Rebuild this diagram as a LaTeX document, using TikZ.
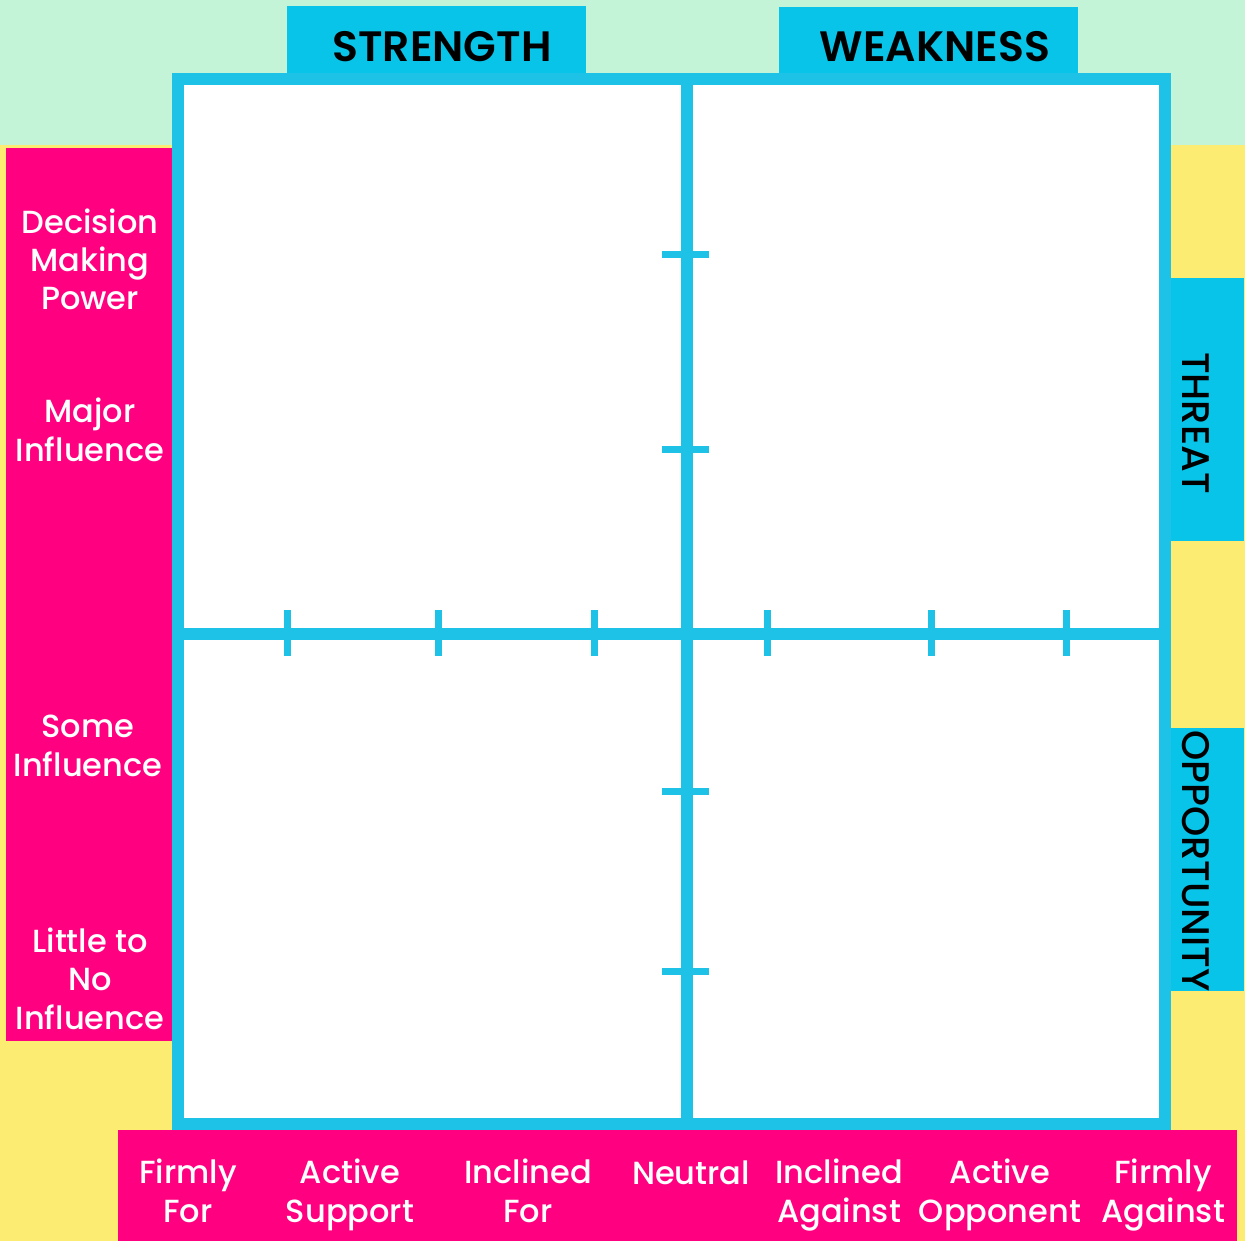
\documentclass[tikz,border=0pt]{standalone}
\usepackage{fontspec}
\setmainfont{Poppins}[UprightFont=* Medium,BoldFont=* SemiBold]
\definecolor{mint}{HTML}{C4F4D8}
\definecolor{sunny}{HTML}{FCEC72}
\definecolor{hotpink}{HTML}{FF0080}
\definecolor{tabblue}{HTML}{08C4E8}
\definecolor{lineblue}{HTML}{1DC2E6}
\begin{document}
\begin{tikzpicture}[x=1pt,y=-1pt,
  tabbox/.style={fill=tabblue,inner sep=0pt},
  tabtext/.style={inner sep=0pt,font=\fontsize{42.5}{46}\selectfont\bfseries,text=black},
  sidetext/.style={inner sep=0pt,font=\fontsize{38.5}{42}\selectfont,text=black,rotate=-90},
  lbl/.style={text=white,align=center,inner sep=0pt,anchor=base,font=\fontsize{32}{38.5}\selectfont},
  axis/.style={draw=lineblue,line width=12pt},
  tick/.style={draw=lineblue,line width=7pt}]
\useasboundingbox (0,0) rectangle (1245,1241);
% backgrounds
\fill[sunny] (0,0) rectangle (1245,1241);
\fill[mint] (0,0) rectangle (1245,145);
% pink label bands
\fill[hotpink] (6,148) rectangle (172,1041);
\fill[hotpink] (118,1130) rectangle (1237,1241);
% category tabs
\node[tabbox,minimum width=299pt,minimum height=67pt] (strengthbox) at (436.5,39.5) {};
\node[tabtext] (strength) at (442,47) {STRENGTH};
\node[tabbox,minimum width=299pt,minimum height=66pt] (weaknessbox) at (928.5,40) {};
\node[tabtext] (weakness) at (935,47) {WEAKNESS};
\node[tabbox,minimum width=73pt,minimum height=263pt] (threatbox) at (1207.5,409.5) {};
\node[sidetext] (threat) at (1196,423) {THREAT};
\node[tabbox,minimum width=73pt,minimum height=263pt] (oppbox) at (1207.5,859.5) {};
\node[sidetext] (opp) at (1196,861) {OPPORTUNITY};
% grid frame and axes
\draw[fill=white,draw=lineblue,line width=12pt] (178,79) rectangle (1165,1124);
\coordinate (top) at (687,85);
\coordinate (bottom) at (687,1118);
\coordinate (left) at (184,634);
\coordinate (right) at (1159,634);
\draw[axis] (left) -- (right);
\draw[axis] (top) -- (bottom);
\foreach \x in {287,438,594,767,931,1066}
  \draw[tick] (\x,610) -- (\x,656);
\foreach \y in {255,449,791,971}
  \draw[tick] (662,\y) -- (709,\y);
% influence labels (anchored at the baseline of the last line)
\node[lbl] (power) at (90,310) {Decision\\Making\\Power};
\node[lbl] (major) at (90,461) {Major\\Influence};
\node[lbl] (some) at (88,776) {Some\\Influence};
\node[lbl] (little) at (90,1029) {Little to\\No\\Influence};
% support labels
\node[lbl] (ff) at (188,1222) {Firmly\\For};
\node[lbl] (as) at (350,1222) {Active\\Support};
\node[lbl] (inf) at (528,1222) {Inclined\\For};
\node[lbl] (neu) at (691,1184) {Neutral};
\node[lbl] (ina) at (839,1222) {Inclined\\Against};
\node[lbl] (ao) at (1000,1222) {Active\\Opponent};
\node[lbl] (fa) at (1163,1222) {Firmly\\Against};
\end{tikzpicture}
\end{document}
